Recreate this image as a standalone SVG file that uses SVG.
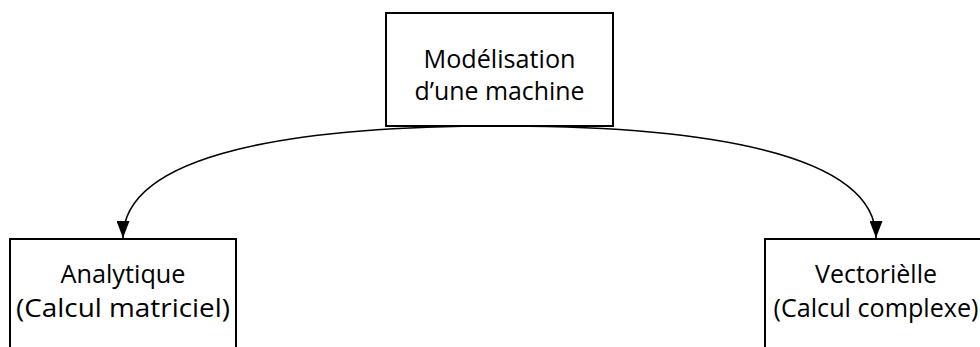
<svg xmlns="http://www.w3.org/2000/svg" width="980" height="347" viewBox="0 0 980 347">
<style>
.box{fill:#fff;stroke:#000;stroke-width:2}
.lbl{font-family:"Open Sans","Liberation Sans",sans-serif;font-size:26px;fill:#000;text-anchor:middle}
.conn{fill:none;stroke:#000;stroke-width:1.6}
</style>
<defs>
<marker id="arr" markerWidth="17" markerHeight="13" refX="17" refY="6.5" orient="auto" markerUnits="userSpaceOnUse">
<path d="M0,0 L17,6.5 L0,13 Z" fill="#000"/>
</marker>
</defs>
<rect width="980" height="347" fill="#fff"/>
<g id="connectors">
<path class="conn" d="M499.5,126 C299.5,126 123,152 123,238" marker-end="url(#arr)"/>
<path class="conn" d="M499.5,126 C699.5,126 876,152 876,238" marker-end="url(#arr)"/>
</g>
<g id="node-modelisation">
<rect class="box" x="386" y="13" width="227" height="113"/>
<text class="lbl" x="499.5" y="68" textLength="152" lengthAdjust="spacingAndGlyphs">Modélisation</text>
<text class="lbl" x="499.5" y="100" textLength="170" lengthAdjust="spacingAndGlyphs">d’une machine</text>
</g>
<g id="node-analytique">
<rect class="box" x="10" y="239" width="226" height="120"/>
<text class="lbl" x="123" y="283" textLength="125" lengthAdjust="spacingAndGlyphs">Analytique</text>
<text class="lbl" x="123" y="317" textLength="214" lengthAdjust="spacingAndGlyphs">(Calcul matriciel)</text>
</g>
<g id="node-vectorielle">
<rect class="box" x="765" y="239" width="222" height="120"/>
<text class="lbl" x="876" y="283" textLength="122" lengthAdjust="spacingAndGlyphs">Vectorièlle</text>
<text class="lbl" x="876" y="317" textLength="205" lengthAdjust="spacingAndGlyphs">(Calcul complexe)</text>
</g>
</svg>
